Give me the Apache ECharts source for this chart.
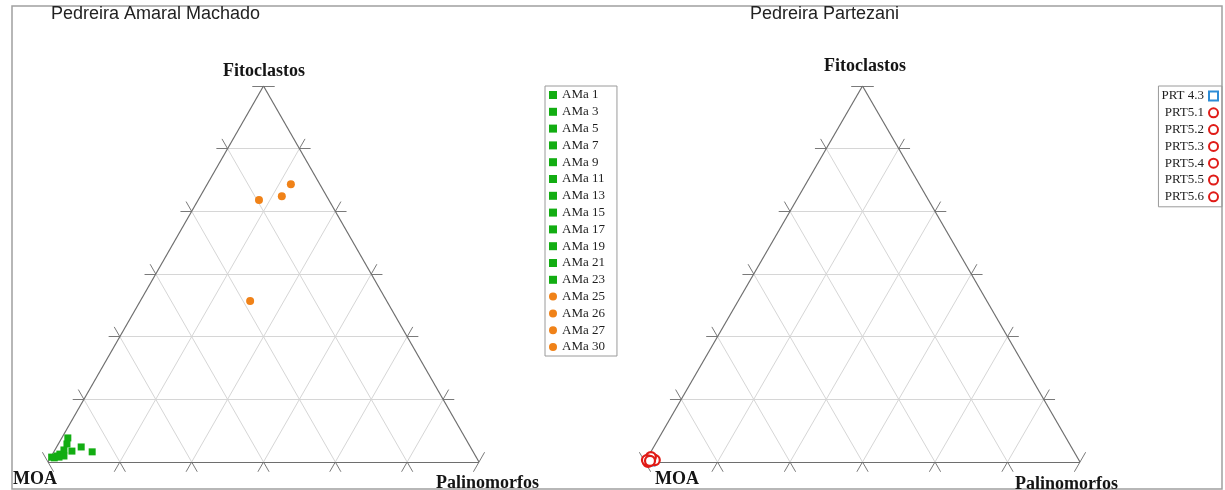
<!DOCTYPE html>
<html>
<head>
<meta charset="utf-8">
<title>Diagramas ternários – Pedreiras</title>
<script src="https://cdn.jsdelivr.net/npm/echarts@6/dist/echarts.min.js"></script>
<style>
  html, body { margin: 0; padding: 0; background: #fff; }
  #chart { width: 1225px; height: 490px; }
</style>
</head>
<body>
<div id="chart"></div>
<script>
// Vertex names of both ternary diagrams
const vertexTop = 'Fitoclastos';
const vertexLeft = 'MOA';
const vertexRight = 'Palinomorfos';

// Pedreira Amaral Machado: percentages of MOA, Fitoclastos, Palinomorfos
const amaNames  = ['AMa 1', 'AMa 3', 'AMa 5', 'AMa 7', 'AMa 9', 'AMa 11', 'AMa 13', 'AMa 15',
                   'AMa 17', 'AMa 19', 'AMa 21', 'AMa 23', 'AMa 25', 'AMa 26', 'AMa 27', 'AMa 30'];
const amaMOA    = [92.2, 93.2, 90.3, 88.4, 94.7, 93.0, 96.2, 97.1, 98.5, 95.5, 98.0, 96.8, 16.2, 10.4, 6.7, 31.7];
const amaFito   = [6.4, 4.8, 4.0, 2.7, 3.2, 2.9, 2.1, 1.6, 1.3, 1.6, 1.1, 1.3, 69.7, 70.7, 73.9, 42.8];
const amaPalino = [1.4, 2.0, 5.7, 8.9, 2.1, 4.1, 1.7, 1.3, 0.2, 2.9, 0.9, 1.9, 14.1, 18.9, 19.4, 25.5];

// Pedreira Partezani: percentages of MOA, Fitoclastos, Palinomorfos
const prtNames  = ['PRT 4.3', 'PRT5.1', 'PRT5.2', 'PRT5.3', 'PRT5.4', 'PRT5.5', 'PRT5.6'];
const prtMOA    = [98.7, 97.8, 99.3, 97.5, 98.0, 99.3, 98.7];
const prtFito   = [0.3, 0.8, 0.0, 0.5, 1.3, 0.5, 0.3];
const prtPalino = [1.0, 1.4, 0.7, 2.0, 0.7, 0.2, 1.0];

// Grid divisions along each side of the triangle
const divisions = 6;

// ternary (MOA, Fito, Palino) -> cartesian value space [0..100] x [0..100]
function toXY(m, f, p) {
  const s = m + f + p;
  return [(p + f / 2) * 100 / s, f * 100 / s];
}

const TICK = 2.6; // tick extension beyond the sides, in percent units

function triangleFrame() {
  return [
    { coords: [toXY(100, 0, 0), toXY(0, 0, 100)] },
    { coords: [toXY(100, 0, 0), toXY(0, 100, 0)] },
    { coords: [toXY(0, 0, 100), toXY(0, 100, 0)] }
  ];
}

function gridSegments() {
  const segs = [];
  for (let k = 1; k < divisions; k++) {
    const c = 100 * k / divisions;
    segs.push({ coords: [toXY(100 - c, c, 0), toXY(0, c, 100 - c)] });   // constant Fitoclastos
    segs.push({ coords: [toXY(c, 100 - c, 0), toXY(c, 0, 100 - c)] });   // constant MOA
    segs.push({ coords: [toXY(100 - c, 0, c), toXY(0, 100 - c, c)] });   // constant Palinomorfos
  }
  return segs;
}

function tickSegments() {
  const segs = [];
  const t = TICK;
  for (let k = 1; k <= divisions; k++) {
    const c = 100 * k / divisions;
    // constant Fitoclastos: left and right ends
    segs.push({ coords: [toXY(100 - c, c, 0), toXY(100 - c + t, c, -t)] });
    segs.push({ coords: [toXY(0, c, 100 - c), toXY(-t, c, 100 - c + t)] });
    // constant MOA: left side and base
    segs.push({ coords: [toXY(c, 100 - c, 0), toXY(c, 100 - c + t, -t)] });
    segs.push({ coords: [toXY(c, 0, 100 - c), toXY(c, -t, 100 - c + t)] });
    // constant Palinomorfos: base and right side
    segs.push({ coords: [toXY(100 - c, 0, c), toXY(100 - c + t, -t, c)] });
    segs.push({ coords: [toXY(0, 100 - c, c), toXY(-t, 100 - c + t, c)] });
  }
  return segs;
}

function diagramLines(idx) {
  const base = {
    type: 'lines', coordinateSystem: 'cartesian2d',
    xAxisIndex: idx, yAxisIndex: idx, polyline: false,
    silent: true, clip: false, animation: false
  };
  return [
    Object.assign({}, base, { data: gridSegments(), z: 1,
      lineStyle: { color: '#d6d6d6', width: 1, opacity: 1 } }),
    Object.assign({}, base, { data: tickSegments(), z: 2,
      lineStyle: { color: '#7a7a7a', width: 1, opacity: 1 } }),
    Object.assign({}, base, { data: triangleFrame(), z: 2,
      lineStyle: { color: '#6e6e6e', width: 1.2, opacity: 1 } })
  ];
}

const series = [...diagramLines(0), ...diagramLines(1)];

amaNames.forEach((name, i) => {
  const sq = i < 12;
  series.push({
    name, type: 'scatter', xAxisIndex: 0, yAxisIndex: 0, clip: false, z: 5,
    symbol: sq ? 'rect' : 'circle',
    symbolSize: sq ? 7 : 8,
    itemStyle: { color: sq ? '#12ad12' : '#f08218', opacity: 1 },
    data: [toXY(amaMOA[i], amaFito[i], amaPalino[i])]
  });
});

prtNames.forEach((name, i) => {
  const sq = i === 0;
  series.push({
    name, type: 'scatter', xAxisIndex: 1, yAxisIndex: 1, clip: false, z: sq ? 5 : 6,
    symbol: sq ? 'rect' : 'circle',
    symbolSize: sq ? 9 : 10,
    itemStyle: {
      color: '#ffffff',
      borderColor: sq ? '#2d8cd6' : '#e01b17',
      borderWidth: 2.2,
      opacity: 1
    },
    data: [toXY(prtMOA[i], prtFito[i], prtPalino[i])]
  });
});

const axisX = (gi) => ({ type: 'value', gridIndex: gi, min: 0, max: 100, show: false });
const axisY = (gi) => ({ type: 'value', gridIndex: gi, min: 0, max: 100, show: false });

const serifBold = 'bold 18px "Liberation Serif", "Times New Roman", serif';

function label(text, x, y, align) {
  return {
    type: 'text', x, y, silent: true, z: 10,
    style: { text, align, verticalAlign: 'middle', font: serifBold, fill: '#151515' }
  };
}

const legendText = { fontFamily: 'Liberation Serif', fontSize: 13, color: '#1e1e1e', lineHeight: 14 };

const option = {
  backgroundColor: '#ffffff',
  animation: false,
  title: [
    { text: 'Pedreira Amaral Machado', left: 51, top: 5, padding: 0,
      textStyle: { fontFamily: 'Liberation Sans', fontSize: 18, fontWeight: 'normal', color: '#222' } },
    { text: 'Pedreira Partezani', left: 750, top: 5, padding: 0,
      textStyle: { fontFamily: 'Liberation Sans', fontSize: 18, fontWeight: 'normal', color: '#222' } }
  ],
  grid: [
    { left: 48, top: 86, width: 431, height: 376 },
    { left: 645, top: 86, width: 435, height: 376 }
  ],
  xAxis: [axisX(0), axisX(1)],
  yAxis: [axisY(0), axisY(1)],
  legend: [
    {
      data: amaNames, orient: 'vertical', left: 545, top: 86,
      itemWidth: 8, itemHeight: 8, itemGap: 2.8, padding: [2, 12, 2, 4],
      borderColor: '#9a9a9a', borderWidth: 1, selectedMode: false,
      textStyle: legendText
    },
    {
      data: prtNames, orient: 'vertical', align: 'right', right: 3, top: 86,
      itemWidth: 9, itemHeight: 9, itemGap: 2.8, padding: [3, 3, 3, 3],
      borderColor: '#9a9a9a', borderWidth: 1, selectedMode: false,
      itemStyle: { borderWidth: 2 },
      textStyle: legendText
    }
  ],
  graphic: [
    { type: 'rect', silent: true, z: 0,
      shape: { x: 12, y: 6, width: 1210, height: 483 },
      style: { fill: null, stroke: '#a0a0a0', lineWidth: 1.5 } },
    label(vertexTop, 264, 71, 'center'),
    label(vertexLeft, 13, 479, 'left'),
    label(vertexRight, 436, 483, 'left'),
    label(vertexTop, 865, 66, 'center'),
    label(vertexLeft, 655, 479, 'left'),
    label(vertexRight, 1015, 484, 'left')
  ],
  series
};

const chart = echarts.init(document.getElementById('chart'), null, { renderer: 'canvas' });
chart.setOption(option);
</script>
</body>
</html>
